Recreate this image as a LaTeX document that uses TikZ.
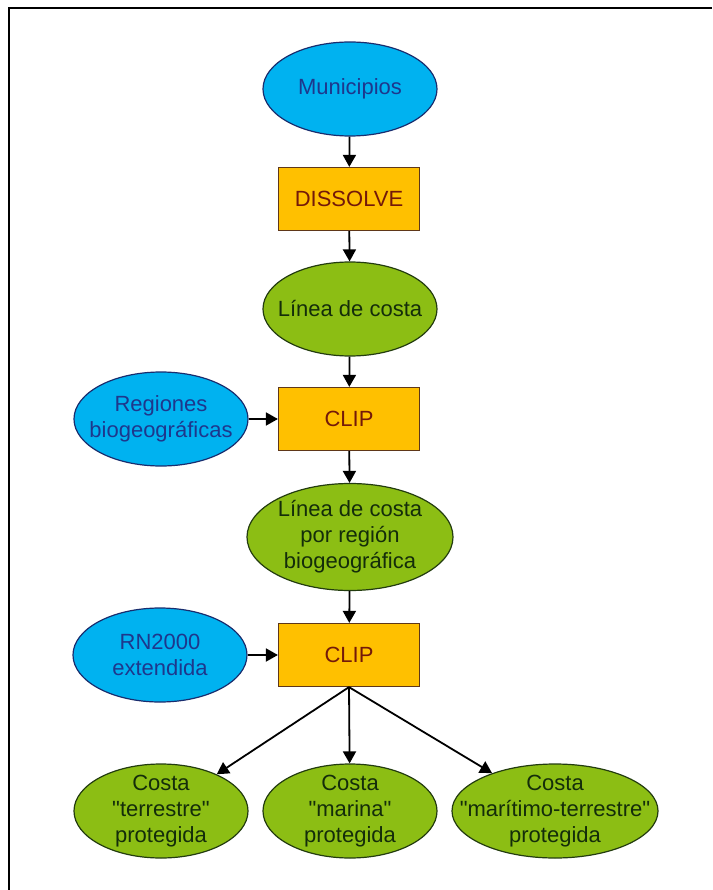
\documentclass[tikz,border=0pt]{standalone}
\usepackage{fontspec}
\setmainfont{Liberation Sans}
\usetikzlibrary{shapes.geometric,arrows.meta}
\definecolor{capa}{RGB}{0,178,240}
\definecolor{capaborde}{RGB}{25,45,110}
\definecolor{capatexto}{RGB}{30,55,140}
\definecolor{resultado}{RGB}{140,190,20}
\definecolor{resultadoborde}{RGB}{35,60,15}
\definecolor{resultadotexto}{RGB}{20,45,10}
\definecolor{proceso}{RGB}{255,192,0}
\definecolor{procesoborde}{RGB}{95,55,25}
\definecolor{procesotexto}{RGB}{115,25,10}

\begin{document}
\begin{tikzpicture}[x=1pt,y=-1pt,
    capa/.style={ellipse,draw=capaborde,fill=capa,text=capatexto,line width=1.2pt,
        minimum width=174pt,minimum height=94pt,inner xsep=-60pt,inner ysep=-40pt,align=center,
        font=\fontsize{22}{26}\selectfont},
    resultado/.style={capa,draw=resultadoborde,fill=resultado,text=resultadotexto},
    proceso/.style={rectangle,draw=procesoborde,fill=proceso,text=procesotexto,line width=1.2pt,
        minimum width=141pt,minimum height=63pt,font=\fontsize{22}{26}\selectfont},
    flecha/.style={line width=1.8pt,-{Triangle[length=12pt,width=13pt]}}]
    \useasboundingbox (0,0) rectangle (712,890);
    \draw[line width=2.5pt] (9,890) -- (9,8) -- (712,8);

        % cadena principal
        \node[capa] (municipios) at (350,89) {Municipios};
        \node[proceso] (dissolve) at (349,199) {DISSOLVE};
        \node[resultado] (costa) at (350,309) {Línea de costa};
        \node[proceso] (clipA) at (349,419) {CLIP};
        \node[capa] (regiones) at (161,419) {Regiones\\biogeográficas};
        \node[resultado,minimum width=206pt,minimum height=107pt] (costareg) at (350,537) {Línea de costa\\por región\\biogeográfica};
        \node[proceso] (clipB) at (349,655) {CLIP};
        \node[capa] (rn) at (160,655) {RN2000\\extendida};
        % salidas
        \node[resultado] (terrestre) at (161,811) {Costa\\\textquotedbl terrestre\textquotedbl\\protegida};
        \node[resultado] (marina) at (350,811) {Costa\\\textquotedbl marina\textquotedbl\\protegida};
        \node[resultado,minimum width=206pt] (maritimo) at (555,811) {Costa\\\textquotedbl marítimo-terrestre\textquotedbl\\protegida};

          \draw[flecha] (municipios) -- (dissolve);
          \draw[flecha] (dissolve) -- (costa);
          \draw[flecha] (costa) -- (clipA);
          \draw[flecha] (regiones) -- (clipA);
          \draw[flecha] (clipA) -- (costareg);
          \draw[flecha] (costareg) -- (clipB);
          \draw[flecha] (rn) -- (clipB);
          \foreach \s in {terrestre,marina,maritimo}{
            \draw[flecha] (clipB.south) -- (\s);
          }

    \end{tikzpicture}
\end{document}
